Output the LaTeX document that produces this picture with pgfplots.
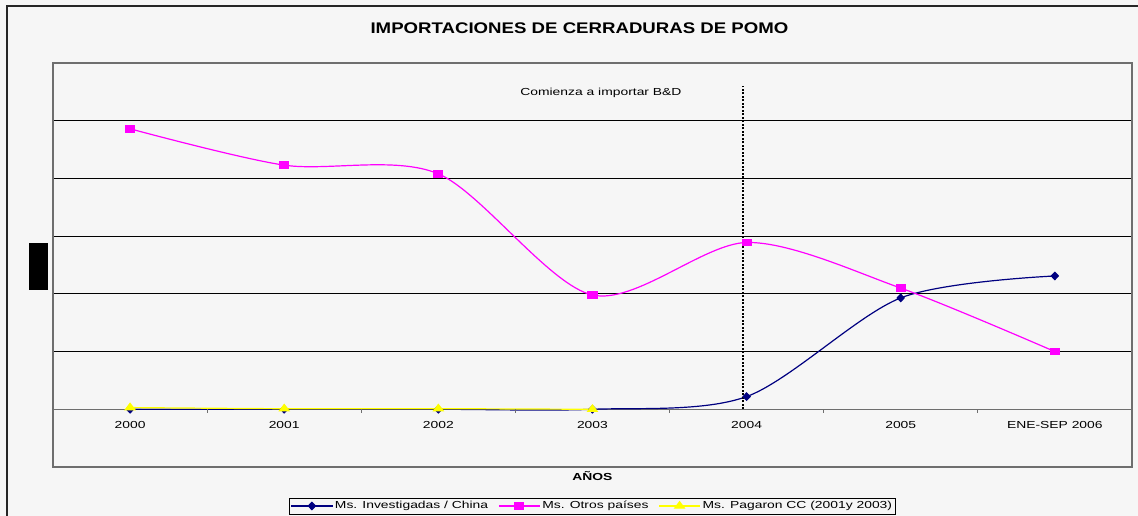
\documentclass[border=0pt]{standalone}
\usepackage{fontspec}
\setmainfont{Liberation Sans}[FakeStretch=1.36]
\newfontfamily\titlefont{Liberation Sans}[FakeStretch=1.21]
\usepackage{pgfplots}
\pgfplotsset{compat=1.18}
\definecolor{bg}{HTML}{F6F6F6}
\definecolor{navyc}{HTML}{000080}
\definecolor{magc}{HTML}{FF00FF}
\definecolor{yelc}{HTML}{FFFF00}
\definecolor{framec}{HTML}{6E6E6E}
\newcommand{\smallfont}{\fontsize{10.2}{12}\selectfont}
\begin{document}
\begin{tikzpicture}
\path[use as bounding box, fill=bg] (0pt,0pt) rectangle (1138pt,516pt);
\draw[line width=1.3pt, black!85] (7pt,-2pt) -- (7pt,510pt) -- (1140pt,510pt);
\node[font=\titlefont\fontsize{15.4}{18}\selectfont\bfseries, inner sep=0pt] at (579.5pt,488.2pt) {IMPORTACIONES DE CERRADURAS DE POMO};
\begin{axis}[
  at={(53pt,49pt)}, anchor=south west, scale only axis,
  width=1079pt, height=404pt,
  xmin=-0.5, xmax=6.5, ymin=-1, ymax=6,
  axis line style={framec, line width=1.3pt},
  xtick={0,...,6},
  xticklabels={2000,2001,2002,2003,2004,2005,ENE-SEP 2006},
  xtick style={draw=none},
  xticklabel style={font=\smallfont, yshift=49pt},
  ytick={1,...,5}, yticklabels={}, ytick style={draw=none},
  ymajorgrids, major grid style={black, line width=0.8pt},
  extra y ticks={0}, extra y tick labels={},
  extra y tick style={major grid style={framec, line width=1.3pt}, tick style={draw=none}},
  xlabel={AÑOS},
  every axis x label/.style={at={(axis description cs:0.5,-0.0223)}, anchor=center, font=\smallfont\bfseries},
  ylabel={\phantom{X}},
  every axis y label/.style={at={(axis description cs:-0.01344,0.4963)}, anchor=center, rotate=90, fill=black, inner sep=0pt, minimum width=47pt, minimum height=19pt},
  legend style={at={(axis description cs:0.5,-0.0965)}, anchor=center, draw=black, fill=bg, font=\smallfont, legend columns=3, inner sep=1.5pt,
    /tikz/every even column/.append style={column sep=8pt}},
  legend cell align=left,
  legend image code/.code={\draw[mark repeat=2,mark phase=2,#1] plot coordinates {(0pt,0pt) (20.5pt,0pt) (41pt,0pt)};},
  clip=false,
]
\addplot[navyc, line width=1.2pt, smooth, mark=diamond*, mark size=3.6pt, mark options={xscale=1.3, solid, fill=navyc}]
  coordinates {(0,0) (1,0) (2,0) (3,0) (4,0.22) (5,1.93) (6,2.31)};
\addlegendentry{Ms. Investigadas / China}
\addplot[magc, line width=1.2pt, smooth, mark=square*, mark size=3.2pt, mark options={xscale=1.4, solid, fill=magc}]
  coordinates {(0,4.86) (1,4.23) (2,4.08) (3,1.98) (4,2.89) (5,2.10) (6,1.00)};
\addlegendentry{Ms. Otros países}
\addplot[yelc, line width=1.2pt, smooth, mark=triangle*, mark size=4.2pt, mark options={xscale=1.3, solid, fill=yelc}]
  coordinates {(0,0.03) (1,0.01) (2,0.01) (3,0.0)};
\addlegendentry{Ms. Pagaron CC (2001y 2003)}
\pgfplotsinvokeforeach{0.5,1.5,2.5,3.5,4.5,5.5}{
  \draw[framec, line width=1pt] (axis cs:#1,0) -- ++(0pt,-4pt);
}
\draw[black, line width=2pt, dash pattern=on 2pt off 1.5pt] (axis cs:3.977,0) -- (axis cs:3.977,5.6);
\node[font=\smallfont] at (axis cs:3.055,5.476) {Comienza a importar B\&D};
\end{axis}
\end{tikzpicture}
\end{document}
